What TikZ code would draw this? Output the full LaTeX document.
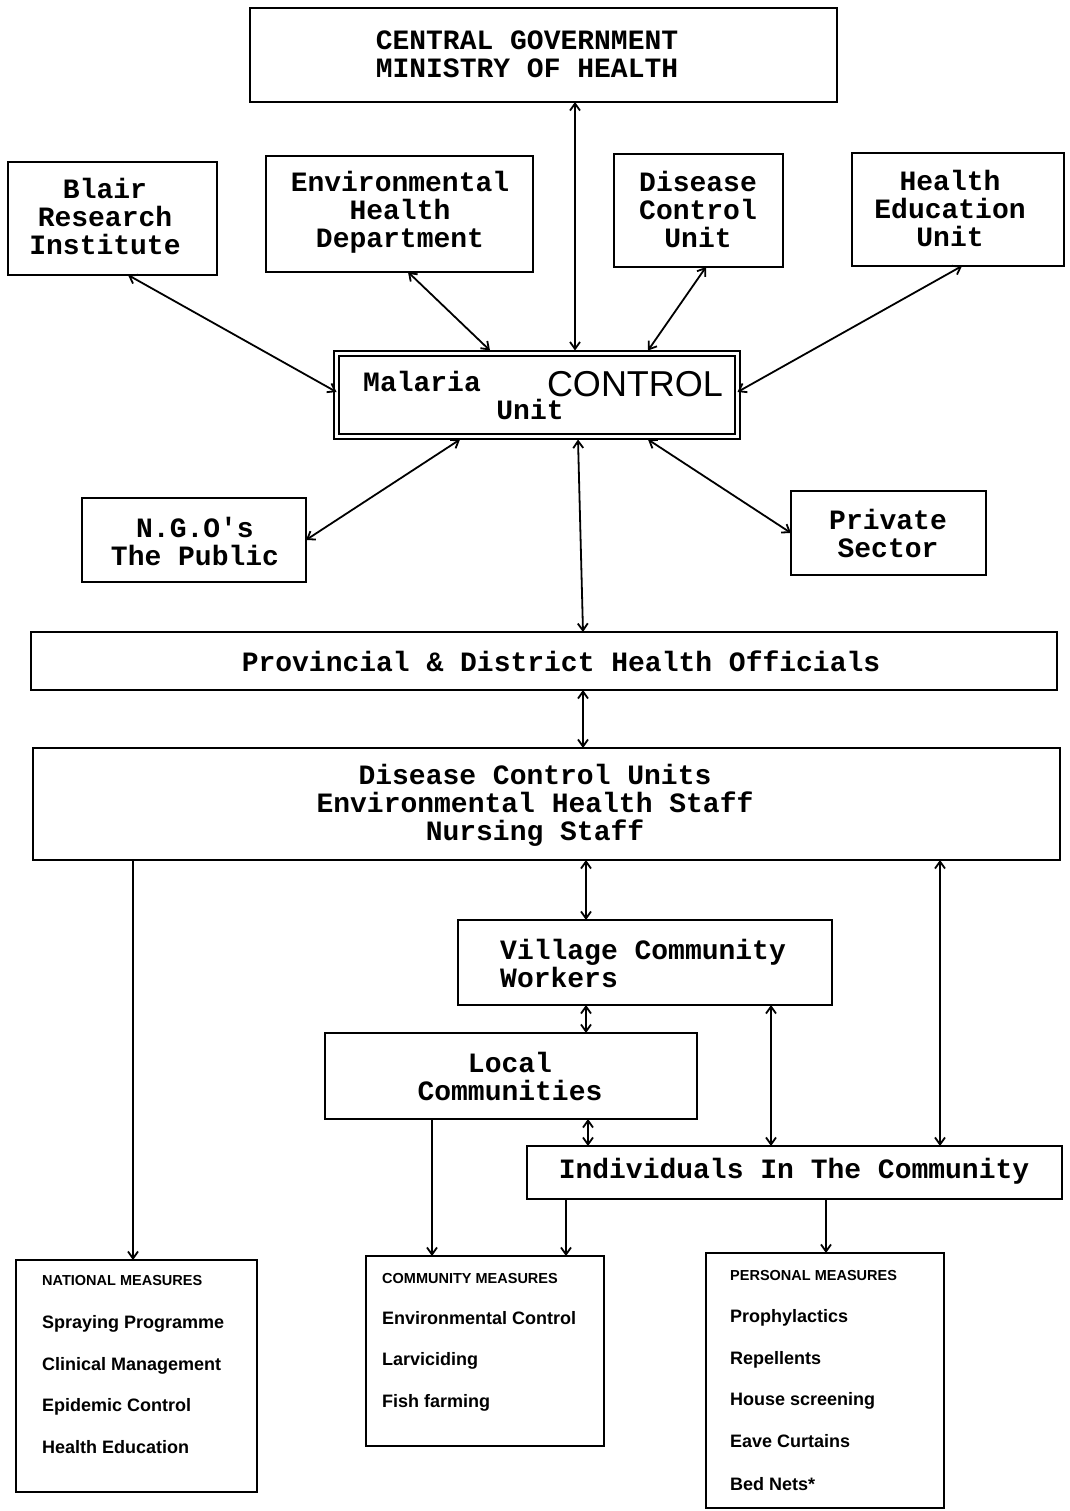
\documentclass[tikz,border=0pt]{standalone}
\usepackage{fontspec}
\usetikzlibrary{arrows.meta}
\newfontfamily\monof{Liberation Mono}
\newfontfamily\sansf{Liberation Sans}
\begin{document}
\begin{tikzpicture}[x=1pt,y=-1pt,
  box/.style={draw,line width=2pt,rectangle,inner sep=0pt,outer sep=0pt},
  txt/.style={font=\monof\bfseries\fontsize{28}{28}\selectfont,align=center,inner sep=0pt},
  meas/.style={font=\sansf\bfseries\fontsize{18}{18}\selectfont,anchor=west,inner sep=0pt,text height=13pt,text depth=4pt},
  head/.style={font=\sansf\bfseries\fontsize{14.5}{14.5}\selectfont,anchor=west,inner sep=0pt,text height=11pt,text depth=0pt},
  bi/.style={line width=1.8pt,{Straight Barb[length=7pt,width=10pt]}-{Straight Barb[length=7pt,width=10pt]}},
  uni/.style={line width=1.8pt,-{Straight Barb[length=7pt,width=10pt]}}]
\useasboundingbox (0,0) rectangle (1069,1511);
% boxes
\node[box,minimum width=587pt,minimum height=94pt] (cg) at (543.5,55) {};
\node[txt] (cgt) at (527,54) {CENTRAL GOVERNMENT\\MINISTRY OF HEALTH};
\node[box,minimum width=209pt,minimum height=113pt] (blair) at (112.5,218.5) {};
\node[txt] (blairt) at (105,216) {Blair\\Research\\Institute};
\node[box,minimum width=267pt,minimum height=116pt] (env) at (399.5,214) {};
\node[txt] (envt) at (400,212) {Environmental\\Health\\Department};
\node[box,minimum width=169pt,minimum height=113pt] (dcu) at (698.5,210.5) {};
\node[txt] (dcut) at (698,209) {Disease\\Control\\Unit};
\node[box,minimum width=212pt,minimum height=113pt] (hed) at (958,209.5) {};
\node[txt] (hedt) at (950,208) {Health\\Education\\Unit};
\node[box,double,double distance=3pt,line width=1.8pt,minimum width=401pt,minimum height=83pt] (mal) at (537,395) {};
\node[txt,anchor=west] (malt) at (363,381) {Malaria};
\node[font=\sansf\fontsize{36}{36}\selectfont,inner sep=0pt] (malc) at (635,384) {CONTROL};
\node[txt] (malu) at (530,409) {Unit};
\node[box,minimum width=224pt,minimum height=84pt] (ngo) at (194,540) {};
\node[txt] (ngot) at (195,541) {N.G.O's\\The Public};
\node[box,minimum width=195pt,minimum height=84pt] (priv) at (888.5,533) {};
\node[txt] (privt) at (888,533) {Private\\Sector};
\node[box,minimum width=1026pt,minimum height=58pt] (prov) at (544,661) {};
\node[txt] (provt) at (561,661) {Provincial \& District  Health Officials};
\node[box,minimum width=1027pt,minimum height=112pt] (staff) at (546.5,804) {};
\node[txt] (stafft) at (535,805) {Disease Control Units\\Environmental Health Staff\\Nursing Staff};
\node[box,minimum width=374pt,minimum height=85pt] (vill) at (645,962.5) {};
\node[txt,align=left,anchor=west] (villt) at (500,963) {Village Community\\Workers};
\node[box,minimum width=372pt,minimum height=86pt] (loc) at (511,1076) {};
\node[txt] (loct) at (510,1076) {Local\\Communities};
\node[box,minimum width=535pt,minimum height=53pt] (ind) at (794.5,1172.5) {};
\node[txt] (indt) at (794,1171) {Individuals In The Community};
\node[box,minimum width=241pt,minimum height=232pt] (nat) at (136.5,1376) {};
\node[head] (n0) at (42,1280) {NATIONAL MEASURES};
\node[meas] (n1) at (42,1324) {Spraying Programme};
\node[meas] (n2) at (42,1366) {Clinical Management};
\node[meas] (n3) at (42,1407) {Epidemic Control};
\node[meas] (n4) at (42,1449) {Health Education};
\node[box,minimum width=238pt,minimum height=190pt] (com) at (485,1351) {};
\node[head] (c0) at (382,1278) {COMMUNITY MEASURES};
\node[meas] (c1) at (382,1320) {Environmental Control};
\node[meas] (c2) at (382,1361) {Larviciding};
\node[meas] (c3) at (382,1403) {Fish farming};
\node[box,minimum width=238pt,minimum height=255pt] (per) at (825,1380.5) {};
\node[head] (p0) at (730,1275) {PERSONAL MEASURES};
\node[meas] (p1) at (730,1318) {Prophylactics};
\node[meas] (p2) at (730,1360) {Repellents};
\node[meas] (p3) at (730,1401) {House screening};
\node[meas] (p4) at (730,1443) {Eave Curtains};
\node[meas] (p5) at (730,1486) {Bed Nets*};
% connectors
\draw[bi] ([xshift=31.5pt]cg.south) -- ([xshift=38pt,yshift=3pt]mal.north);
\draw[bi] ([xshift=15.5pt]blair.south) -- ([yshift=3pt]mal.west);
\draw[bi] ([xshift=8.5pt]env.south) -- ([xshift=-47pt,yshift=3pt]mal.north);
\draw[bi] ([xshift=7.5pt]dcu.south) -- ([xshift=111pt,yshift=3pt]mal.north);
\draw[bi] ([xshift=4pt]hed.south) -- ([yshift=3pt]mal.east);
\draw[bi] (ngo.east) -- ([xshift=-77pt,yshift=-3pt]mal.south);
\draw[bi] (priv.west) -- ([xshift=111pt,yshift=-3pt]mal.south);
\draw[bi] ([xshift=41pt,yshift=-3pt]mal.south) -- ([xshift=39pt]prov.north);
\draw[bi] ([xshift=39pt]prov.south) -- ([xshift=36.5pt]staff.north);
\draw[bi] ([xshift=39.5pt]staff.south) -- ([xshift=-59pt]vill.north);
\draw[bi] ([xshift=-59pt]vill.south) -- ([xshift=75pt]loc.north);
\draw[bi] ([xshift=77pt]loc.south) -- ([xshift=-206.5pt]ind.north);
\draw[bi] ([xshift=126pt]vill.south) -- ([xshift=-23.5pt]ind.north);
\draw[bi] ([xshift=393.5pt]staff.south) -- ([xshift=145.5pt]ind.north);
\draw[uni] ([xshift=-413.5pt]staff.south) -- ([xshift=-3.5pt]nat.north);
\draw[uni] ([xshift=-79pt]loc.south) -- ([xshift=-53pt]com.north);
\draw[uni] ([xshift=-228.5pt]ind.south) -- ([xshift=81pt]com.north);
\draw[uni] ([xshift=31.5pt]ind.south) -- ([xshift=1pt]per.north);
\end{tikzpicture}
\end{document}
